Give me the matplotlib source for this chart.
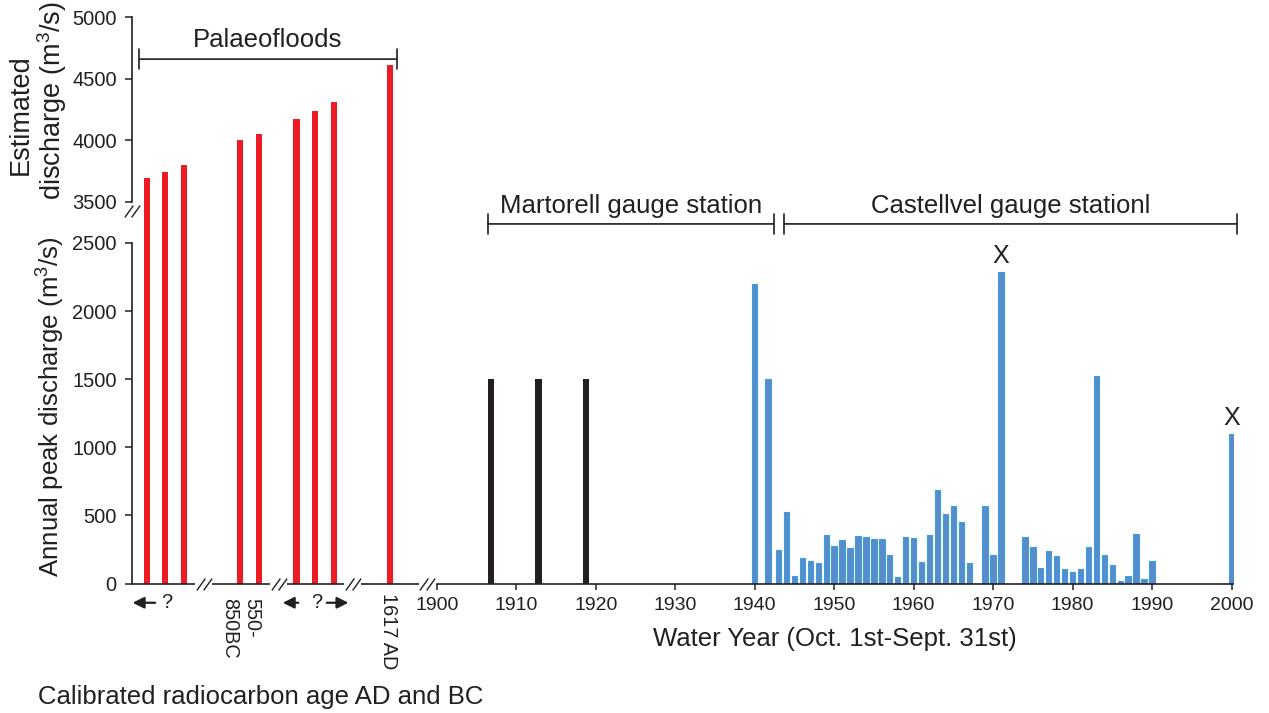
import numpy as np
import matplotlib.pyplot as plt
from matplotlib.path import Path

plt.rcParams['font.family'] = ['Liberation Sans', 'DejaVu Sans']
plt.rcParams['mathtext.fontset'] = 'custom'
plt.rcParams['mathtext.rm'] = 'Liberation Sans'
plt.rcParams['mathtext.default'] = 'regular'

INK = '#231f20'
RED = '#ed1c24'
BLUE = '#5a8bca'
BLUE_EDGE = '#3a9fdf'

# palaeofloods, estimated discharge (m3/s)
palaeo_q = [3690, 3745, 3795, 4000, 4050, 4170, 4240, 4315, 4610]
palaeo_slot = [0, 1, 2, 5, 6, 8, 9, 10, 13]
break_slot = [3.05, 7.05, 11.0, 15.0]

# Martorell gauge station
martorell_year = [1906.8, 1912.8, 1918.8]
martorell_q = [1500, 1500, 1500]

# Castellvell gauge station
castell_year = [1940, 1941.7, 1943, 1944, 1945, 1946, 1947, 1948, 1949, 1950,
                1951, 1952, 1953, 1954, 1955, 1956, 1957, 1958, 1959, 1960,
                1961, 1962, 1963, 1964, 1965, 1966, 1967, 1969, 1970, 1971,
                1974, 1975, 1976, 1977, 1978, 1979, 1980, 1981, 1982, 1983,
                1984, 1985, 1986, 1987, 1988, 1989, 1990, 2000]
castell_q = [2200, 1500, 245, 525, 57, 185, 165, 148, 355, 272,
             321, 258, 348, 338, 329, 329, 209, 48, 341, 334,
             158, 355, 683, 507, 566, 453, 153, 566, 207, 2285,
             343, 270, 116, 240, 202, 106, 82, 106, 268, 1521,
             207, 136, 20, 57, 363, 35, 165, 1100]
marked_years = [1971, 2000]

W, H = 1269, 713
fig = plt.figure(figsize=(W / 100, H / 100), dpi=100)


def box(l, t, r, b):
    return [l / W, 1 - b / H, (r - l) / W, (b - t) / H]


ax_p = fig.add_axes(box(132, 17.3, 436.8, 583.5))
ax_g = fig.add_axes(box(436.8, 243, 1233.5, 583.5))
for a in (ax_p, ax_g):
    a.patch.set_visible(False)

# broken y scale: 0-2500 below, 3500-5000 above
ybrk = [0, 2500, 3500, 5000]
yfrac = [0, 0.6014, 0.6743, 1.0]
ax_p.set_yscale('function', functions=(lambda y: np.interp(y, ybrk, yfrac),
                                       lambda f: np.interp(f, yfrac, ybrk)))
ax_p.set_ylim(0, 5000)
ax_p.set_xlim(-0.785, 15.5)

# "//" marker
brk = Path([(-0.9, -0.7), (0.1, 0.7), (-0.1, -0.7), (0.9, 0.7)],
           [Path.MOVETO, Path.LINETO, Path.MOVETO, Path.LINETO])

ax_p.bar(palaeo_slot, palaeo_q, width=0.33, color=RED)

for s in ax_p.spines.values():
    s.set_visible(False)
yax = ax_p.get_yaxis_transform()
for lo, hi in [(0, 2500), (3500, 5000)]:
    ax_p.plot([0, 0], [lo, hi], color=INK, lw=1.2, transform=yax, clip_on=False)
ax_p.plot([0], [3280], marker=brk, ms=11, mew=1.0, mec=INK, ls='none',
          transform=yax, clip_on=False)

ax_p.set_xticks([])
ax_p.set_yticks([0, 500, 1000, 1500, 2000, 2500, 3500, 4000, 4500, 5000])
ax_p.minorticks_off()
ax_p.tick_params(axis='y', direction='out', length=5, width=1.1, color=INK,
                 labelcolor=INK, labelsize=14.5, pad=6)

# baseline pieces with breaks
starts = [-0.785] + [b + 0.45 for b in break_slot[:-1]]
ends = [b - 0.45 for b in break_slot]
ax_p.hlines([0] * len(starts), starts, ends, color=INK, lw=1.2, clip_on=False)
ax_p.plot(break_slot, [0] * len(break_slot), marker=brk, ms=11, mew=1.0,
          mec=INK, ls='none', clip_on=False)

# age labels under the palaeofloods
xtr = ax_p.get_xaxis_transform()
arw = dict(arrowstyle='-|>', color=INK, lw=1.6, mutation_scale=17,
           shrinkA=0, shrinkB=0)
ya = -0.034
ax_p.annotate('', xy=(-0.75, ya), xytext=(0.45, ya), xycoords=xtr, arrowprops=arw)
ax_p.text(1.08, ya, '?', transform=xtr, ha='center', va='center', fontsize=14.5, color=INK)
ax_p.annotate('', xy=(7.27, ya), xytext=(8.1, ya), xycoords=xtr, arrowprops=arw)
ax_p.text(9.08, ya, '?', transform=xtr, ha='center', va='center', fontsize=14.5, color=INK)
ax_p.annotate('', xy=(10.78, ya), xytext=(9.62, ya), xycoords=xtr, arrowprops=arw)
ax_p.text(5.0, -0.026, '550-\n850BC', transform=xtr, rotation=-90, ha='center',
          va='top', multialignment='left', fontsize=14.3, color=INK)
ax_p.text(12.9, -0.017, '1617 AD', transform=xtr, rotation=-90, ha='center',
          va='top', fontsize=14.3, color=INK)

# Palaeofloods bracket
brace = dict(arrowstyle='|-|,widthA=0.35,widthB=0.35', color=INK, lw=1.2,
             mutation_scale=20, shrinkA=0, shrinkB=0)
ax_p.annotate('', xy=(-0.4, 4660), xytext=(13.35, 4660), arrowprops=brace,
              annotation_clip=False)
ax_p.annotate('Palaeofloods', ((-0.4 + 13.35) / 2, 4660), xytext=(0, 5),
              textcoords='offset points', ha='center', va='bottom',
              fontsize=18.5, color=INK)

# gauged record
ax_g.bar(martorell_year, martorell_q, width=0.8, color=INK)
ax_g.bar(castell_year, castell_q, width=0.68, color=BLUE, edgecolor=BLUE_EDGE, lw=0.8)
ax_g.set_xlim(1900, 2000.25)
ax_g.set_ylim(0, 2500)
for side in ('left', 'top', 'right'):
    ax_g.spines[side].set_visible(False)
ax_g.spines['bottom'].set_color(INK)
ax_g.spines['bottom'].set_linewidth(1.2)
ax_g.set_yticks([])
ax_g.set_xticks(range(1900, 2001, 10))
ax_g.tick_params(axis='x', direction='out', length=4, width=1.1, color=INK,
                 labelcolor=INK, labelsize=14, pad=6)
ax_g.set_xlabel('Water Year (Oct. 1st-Sept. 31st)', fontsize=18.5, labelpad=9, color=INK)

for yr in marked_years:
    q = castell_q[castell_year.index(yr)]
    ax_g.annotate('X', (yr, q), xytext=(0, 3), textcoords='offset points',
                  ha='center', va='bottom', fontsize=18, color=INK)

for x0, x1, name in [(1906.4, 1942.4, 'Martorell gauge station'),
                     (1943.7, 2000.7, 'Castellvel gauge stationl')]:
    ax_g.annotate('', xy=(x0, 2640), xytext=(x1, 2640), arrowprops=brace,
                  annotation_clip=False)
    ax_g.annotate(name, ((x0 + x1) / 2, 2640), xytext=(0, 4),
                  textcoords='offset points', ha='center', va='bottom',
                  fontsize=18.5, color=INK, annotation_clip=False)

# axis titles
lab = dict(rotation=90, rotation_mode='anchor', ha='left', va='baseline',
           color=INK)
fig.text(60 / W, 1 - 577 / H, 'Annual peak discharge (m$^3$/s)', fontsize=18.6, **lab)
fig.text(28 / W, 1 - 175 / H, 'Estimated', fontsize=19.5, **lab)
fig.text(61 / W, 1 - 200 / H, 'discharge (m$^3$/s)', fontsize=19.5, **lab)
fig.text(38 / W, 1 - 697 / H, 'Calibrated radiocarbon age AD and BC',
         ha='left', va='center', fontsize=18.5, color=INK)

fig.savefig('out.png', dpi=100)
